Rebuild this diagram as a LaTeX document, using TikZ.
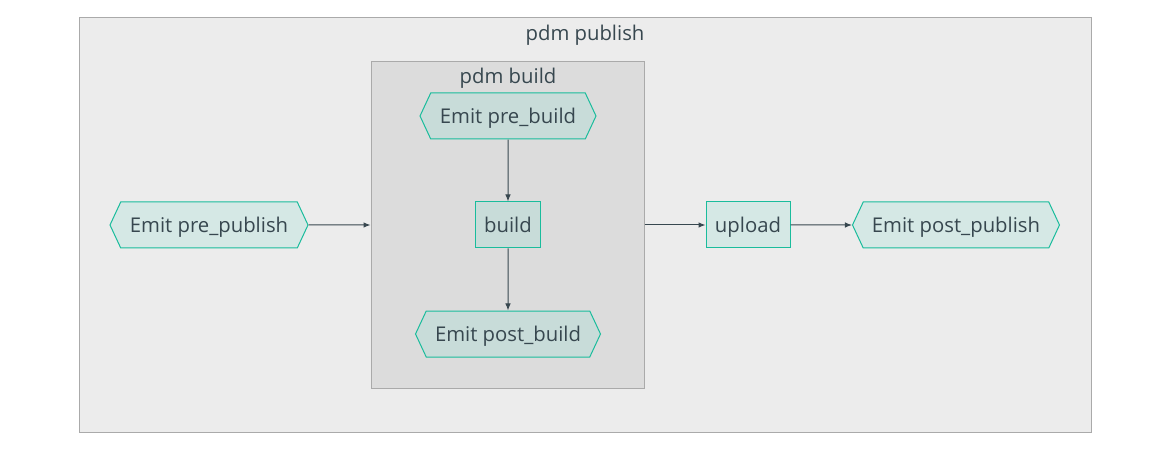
\documentclass[tikz,border=0pt]{standalone}
\usepackage{fontspec}
\setmainfont{Open Sans}
\usetikzlibrary{shapes.symbols,arrows.meta}
\definecolor{ink}{HTML}{37474F}
\definecolor{edge}{HTML}{1ABC9C}
\definecolor{outfill}{HTML}{D5E8E5}
\definecolor{infill}{HTML}{C8DCD9}
\definecolor{boxline}{HTML}{AAAAAA}
\definecolor{pubfill}{HTML}{ECECEC}
\definecolor{bldfill}{HTML}{DCDCDC}

\begin{document}
\begin{tikzpicture}[x=1pt,y=-1pt,
  every node/.style={font=\fontsize{20.3}{24}\selectfont, text=ink, inner sep=0pt, text height=14.5pt, text depth=0pt},
  cluster/.style={draw=boxline, line width=1pt},
  event/.style={signal, signal to=west and east, signal pointer angle=130, draw=edge, line width=1pt, minimum height=46pt},
  task/.style={rectangle, draw=edge, line width=1pt, minimum height=46pt},
  flow/.style={-{Latex[length=7pt,width=5.5pt]}, draw=ink, line width=1pt}]
\useasboundingbox (0,0) rectangle (1157,449);
% clusters
\node[cluster, fill=pubfill, minimum width=1012pt, minimum height=414pt] (publish) at (585,225) {};
\node (publishlabel) at (585,33) {pdm publish};
\node[cluster, fill=bldfill, minimum width=273pt, minimum height=326pt] (buildbox) at (507.5,225) {};
\node (buildlabel) at (508,76) {pdm build};
% steps
\node[event, fill=outfill, minimum width=198pt] (prepublish) at (209,225) {Emit pre\_publish};
\node[event, fill=infill, minimum width=176pt] (prebuild) at (508,116) {Emit pre\_build};
\node[task, fill=infill, minimum width=65pt] (build) at (508,225) {build};
\node[event, fill=infill, minimum width=185pt] (postbuild) at (508,334) {Emit post\_build};
\node[task, fill=outfill, minimum width=84pt] (upload) at (748,225) {upload};
\node[event, fill=outfill, minimum width=207pt] (postpublish) at (956,225) {Emit post\_publish};
% arrows
\draw[flow] (prebuild) -- (build);
\draw[flow] (build) -- (postbuild);
\draw[flow] (prepublish) -- (buildbox);
\draw[flow] (buildbox) -- (upload);
\draw[flow] (upload) -- (postpublish);
\end{tikzpicture}
\end{document}
